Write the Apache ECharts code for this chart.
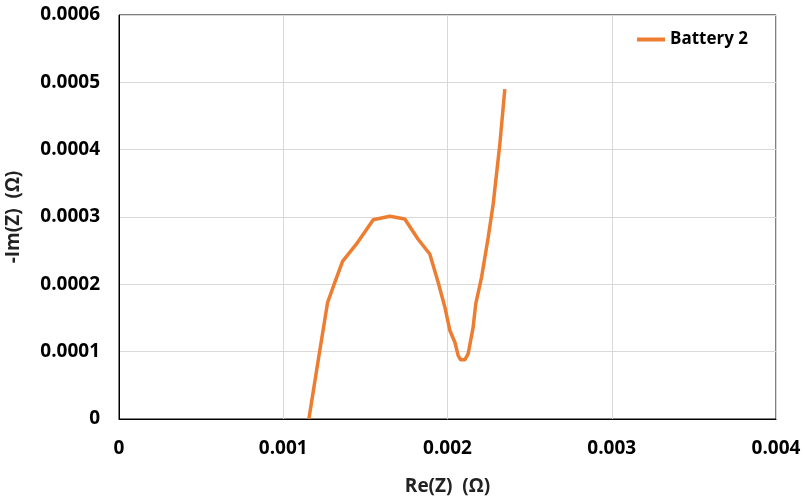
<!DOCTYPE html>
<html><head><meta charset="utf-8">
<script src="https://cdn.jsdelivr.net/npm/echarts@6/dist/echarts.min.js"></script>
<style>html,body{margin:0;padding:0;background:#fff}#c{width:805px;height:498px}</style>
</head><body><div id="c"></div>
<script>
const seriesName = 'Battery 2';
const reZ = [0.001156,0.001219,0.00127,0.001314,0.001361,0.001446,0.001548,0.001649,0.00174,0.001821,0.001892,0.001943,0.001984,0.002015,0.002045,0.002065,0.00208,0.002106,0.002126,0.002156,0.002172,0.002207,0.002248,0.002278,0.002319,0.002349];
const negImZ = [0,0.0000966,0.000173,0.000203,0.000234,0.00026,0.000296,0.000301,0.000297,0.000267,0.000245,0.000203,0.000166,0.000131,0.000114,0.000094,0.000088,0.000088,0.000097,0.000136,0.000171,0.00021,0.00027,0.000319,0.000409,0.00049];
const xTicks = [0,0.001,0.002,0.003,0.004];
const yTicks = [0,0.0001,0.0002,0.0003,0.0004,0.0005,0.0006];

const font = "'Open Sans','Noto Sans',sans-serif";
const chart = echarts.init(document.getElementById('c'));
const fmt = d => v => { if (Math.abs(v) < 1e-12) return '0'; return v.toFixed(d); };
chart.setOption({
  animation:false,
  textStyle:{fontFamily:font},
  grid:{left:119,right:29,top:15,bottom:79,show:true,borderColor:'#000',borderWidth:1,outerBoundsMode:'none',containLabel:false},
  legend:{show:true,top:26,right:52,itemWidth:28,itemHeight:4,itemGap:3,
    textStyle:{fontFamily:font,fontWeight:'bold',fontSize:17,color:'#000'},
    data:[{name:seriesName,icon:'rect'}]},
  xAxis:{type:'value',min:xTicks[0],max:xTicks[xTicks.length-1],interval:0.001,
    name:'Re(Z)  (Ω)',nameLocation:'middle',nameGap:58,
    nameTextStyle:{fontFamily:font,fontWeight:'bold',fontSize:19,color:'#222'},
    axisLine:{lineStyle:{color:'#000'}},axisTick:{show:false},
    axisLabel:{formatter:fmt(3),fontFamily:font,fontWeight:'bold',fontSize:19,color:'#000',margin:20},
    splitLine:{show:true,lineStyle:{color:'#d9d9d9'}}},
  yAxis:{type:'value',min:yTicks[0],max:yTicks[yTicks.length-1],interval:0.0001,
    name:'-Im(Z)  (Ω)',nameLocation:'middle',nameGap:96,nameRotate:90,
    nameTextStyle:{fontFamily:font,fontWeight:'bold',fontSize:19,color:'#222'},
    axisLine:{lineStyle:{color:'#000'}},axisTick:{show:false},
    axisLabel:{formatter:fmt(4),fontFamily:font,fontWeight:'bold',fontSize:19,color:'#000',margin:19},
    splitLine:{show:true,lineStyle:{color:'#d9d9d9'}}},
  series:[{name:seriesName,type:'line',showSymbol:false,symbol:'none',
    data:reZ.map((x,i)=>[x,negImZ[i]]),
    lineStyle:{color:'#ED7D31',width:3.5},itemStyle:{color:'#ED7D31'}}]
});
</script></body></html>
